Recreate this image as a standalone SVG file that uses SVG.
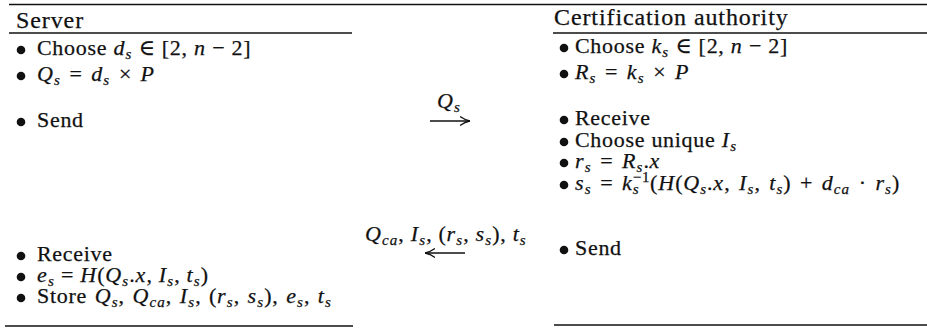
<svg xmlns="http://www.w3.org/2000/svg" width="927" height="329" viewBox="0 0 927 329" font-family="'Liberation Serif', 'DejaVu Serif', 'Times New Roman', serif">
<style>
text{font-family:'Liberation Serif','DejaVu Serif','Times New Roman',serif;fill:#111;stroke:#111;stroke-width:0.25}
.b{font-size:22px;letter-spacing:0.7px}
.h{font-size:24px;letter-spacing:0.9px}
.m{word-spacing:2.4px}
.w{word-spacing:1.5px}
.i{font-style:italic;letter-spacing:1.1px}
.s{font-size:15px;baseline-shift:-4px;font-style:italic;letter-spacing:1.1px}
.sp{font-size:15px;baseline-shift:8px}
.rule{stroke:#111;stroke-width:1.7}
.dot{fill:#111}
.arr{stroke:#111;stroke-width:1.3;fill:none}
</style>
<defs>
<marker id="ah" viewBox="0 0 10 10" refX="10" refY="5" markerWidth="10" markerHeight="10" markerUnits="userSpaceOnUse" orient="auto">
<path d="M0,0.5 Q5,4 10,5 Q5,6 0,9.5" fill="none" stroke="#111" stroke-width="1.3"/>
</marker>
</defs>
<rect width="927" height="329" fill="#fff"/>
<g id="rules">
<line class="rule" x1="9" y1="4.5" x2="927" y2="4.5"/>
<line class="rule" x1="9" y1="33" x2="352" y2="33"/>
<line class="rule" x1="553" y1="33" x2="927" y2="33"/>
<line class="rule" x1="5" y1="326" x2="353" y2="326"/>
<line class="rule" x1="554" y1="325" x2="927" y2="325"/>
</g>
<g id="server">
<text class="h" x="16" y="28">Server</text>
<g id="server-steps">
<circle class="dot" cx="21" cy="50" r="4.3"/>
<text class="b" x="37" y="55">Choose <tspan class="i">d</tspan><tspan class="s">s</tspan> ∈ [2, <tspan class="i">n</tspan> − 2]</text>
<circle class="dot" cx="21" cy="76" r="4.3"/>
<text class="b m" x="37" y="81"><tspan class="i">Q</tspan><tspan class="s">s</tspan> = <tspan class="i">d</tspan><tspan class="s">s</tspan> × <tspan class="i">P</tspan></text>
<circle class="dot" cx="21" cy="122" r="4.3"/>
<text class="b" x="37" y="127">Send</text>
<circle class="dot" cx="21" cy="256" r="4.3"/>
<text class="b" x="37" y="261">Receive</text>
<circle class="dot" cx="21" cy="277" r="4.3"/>
<text class="b" x="37" y="282"><tspan class="i">e</tspan><tspan class="s">s</tspan> = <tspan class="i">H</tspan>(<tspan class="i">Q</tspan><tspan class="s">s</tspan>.<tspan class="i">x</tspan>, <tspan class="i">I</tspan><tspan class="s">s</tspan>, <tspan class="i">t</tspan><tspan class="s">s</tspan>)</text>
<circle class="dot" cx="21" cy="298" r="4.3"/>
<text class="b w" x="37" y="303">Store <tspan class="i">Q</tspan><tspan class="s">s</tspan>, <tspan class="i">Q</tspan><tspan class="s">ca</tspan>, <tspan class="i">I</tspan><tspan class="s">s</tspan>, (<tspan class="i">r</tspan><tspan class="s">s</tspan>, <tspan class="i">s</tspan><tspan class="s">s</tspan>), <tspan class="i">e</tspan><tspan class="s">s</tspan>, <tspan class="i">t</tspan><tspan class="s">s</tspan></text>
</g>
</g>
<g id="ca">
<text class="h" x="554" y="25">Certification authority</text>
<g id="ca-steps">
<circle class="dot" cx="564" cy="48" r="4.3"/>
<text class="b" x="575" y="53">Choose <tspan class="i">k</tspan><tspan class="s">s</tspan> ∈ [2, <tspan class="i">n</tspan> − 2]</text>
<circle class="dot" cx="564" cy="74" r="4.3"/>
<text class="b m" x="575" y="79"><tspan class="i">R</tspan><tspan class="s">s</tspan> = <tspan class="i">k</tspan><tspan class="s">s</tspan> × <tspan class="i">P</tspan></text>
<circle class="dot" cx="564" cy="120" r="4.3"/>
<text class="b" x="575" y="125">Receive</text>
<circle class="dot" cx="564" cy="142" r="4.3"/>
<text class="b" x="575" y="147">Choose unique <tspan class="i">I</tspan><tspan class="s">s</tspan></text>
<circle class="dot" cx="564" cy="163" r="4.3"/>
<text class="b m" x="575" y="168"><tspan class="i">r</tspan><tspan class="s">s</tspan> = <tspan class="i">R</tspan><tspan class="s">s</tspan>.<tspan class="i">x</tspan></text>
<circle class="dot" cx="564" cy="185" r="4.3"/>
<text class="b m" x="575" y="190"><tspan class="i">s</tspan><tspan class="s">s</tspan> = <tspan class="i">k</tspan><tspan class="s">s</tspan><tspan class="sp" dx="-7">−1</tspan>(<tspan class="i">H</tspan>(<tspan class="i">Q</tspan><tspan class="s">s</tspan>.<tspan class="i">x</tspan>, <tspan class="i">I</tspan><tspan class="s">s</tspan>, <tspan class="i">t</tspan><tspan class="s">s</tspan>) + <tspan class="i">d</tspan><tspan class="s">ca</tspan> · <tspan class="i">r</tspan><tspan class="s">s</tspan>)</text>
<circle class="dot" cx="564" cy="250" r="4.3"/>
<text class="b" x="575" y="255">Send</text>
</g>
</g>
<g id="connectors">
<line class="arr" x1="430" y1="121" x2="470" y2="121" marker-end="url(#ah)"/>
<text class="b" x="437" y="108"><tspan class="i">Q</tspan><tspan class="s">s</tspan></text>
<line class="arr" x1="465" y1="253" x2="425" y2="253" marker-end="url(#ah)"/>
<text class="b" x="365" y="241"><tspan class="i">Q</tspan><tspan class="s">ca</tspan>, <tspan class="i">I</tspan><tspan class="s">s</tspan>, (<tspan class="i">r</tspan><tspan class="s">s</tspan>, <tspan class="i">s</tspan><tspan class="s">s</tspan>), <tspan class="i">t</tspan><tspan class="s">s</tspan></text>
</g>
</svg>
